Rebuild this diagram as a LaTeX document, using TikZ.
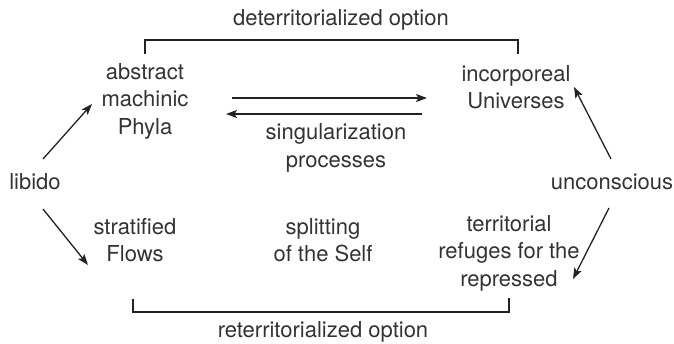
\documentclass[tikz,border=0pt]{standalone}
\usepackage{fontspec}
\setmainfont{TeX Gyre Heros}
\usetikzlibrary{arrows.meta,calc}
\definecolor{ink}{HTML}{333333}
\definecolor{rule}{HTML}{222222}
\tikzset{
  label/.style={text=ink, align=center, inner sep=0pt,
    font=\fontsize{22pt}{27.5pt}\selectfont},
  arr/.style={draw=rule, line width=1.3pt,
    -{Stealth[length=11pt,width=8pt,inset=2.5pt]}},
  thinbracket/.style={draw=rule, line width=1.5pt},
  thickbracket/.style={draw=rule, line width=2.9pt}
}
\begin{document}
\begin{tikzpicture}[x=1pt,y=-1pt]
\useasboundingbox (0,0) rectangle (674,344);

% texts
\node[label] (deto)   at (341,20)  {deterritorialized option};
\node[label] (phyla)  at (145,101) {abstract\\machinic\\Phyla};
\node[label] (univ)   at (516,87)  {incorporeal\\Universes};
\node[label] (sing)   at (336,148) {singularization\\processes};
\node[label] (libido) at (35,182)  {libido};
\node[label] (uncon)  at (612,182) {unconscious};
\node[label] (strat)  at (135,240) {stratified\\Flows};
\node[label] (split)  at (323,240) {splitting\\of the Self};
\node[label] (refuge) at (509,253) {territorial\\refuges for the\\repressed};
\node[label] (reto)   at (323,332) {reterritorialized option};

% arrows from libido and from the unconscious
\draw[arr] ($(libido)+(8,-23)$) -- ($(phyla)+(-53,3)$);
\draw[arr] ($(libido)+(8,27)$)  -- ($(strat)+(-47,25)$);
\draw[arr] ($(uncon)+(-1,-23)$) -- ($(univ)+(58,0)$);
\draw[arr] ($(uncon)+(-3,26)$)  -- ($(refuge)+(64,26)$);

% exchange between Phyla and Universes
\draw[arr] ($(phyla)+(87,-3)$) -- ($(univ)+(-89,11)$);
\draw[arr] ($(univ)+(-94,27)$) -- ($(phyla)+(81,13)$);

% brackets
\draw[thinbracket] ($(phyla)+(0,-47)$) -- ++(0,-14) -| ($(univ)+(2,-33)$);
\draw[thickbracket] ($(strat)+(-2,59)$) -- ++(0,13) -| ($(refuge)+(0,45)$);
\end{tikzpicture}
\end{document}
